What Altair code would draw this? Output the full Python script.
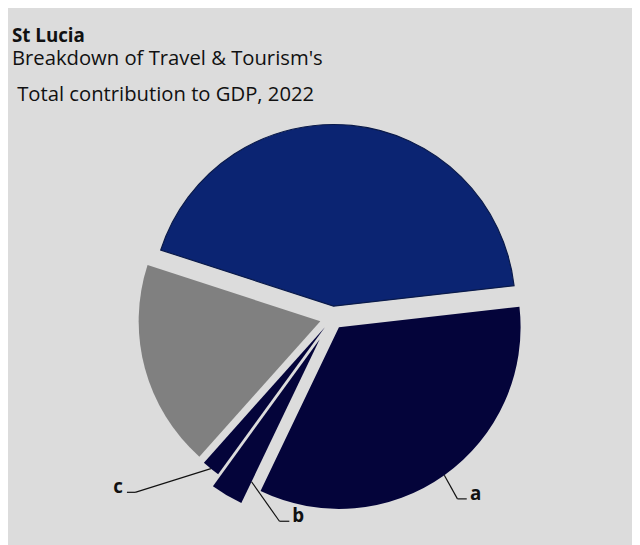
import math
import altair as alt
import pandas as pd

# ---------------- data ----------------
segments = ["Indirect", "a", "b", "c", "Induced"]
shares = [43.2, 33.9, 2.9, 1.6, 18.4]
callouts = ["", "a", "b", "c", ""]

title_text = "St Lucia"
subtitle_lines = ["Breakdown of Travel & Tourism's", "\u200b\u00a0Total contribution to GDP, 2022"]

# ---------------- style ----------------
FILL = {"Indirect": "#0b2472", "a": "#04043a", "b": "#04043a", "c": "#04043a", "Induced": "#808080"}
EXPLODE = {"Indirect": 12, "a": 11.5, "b": 25, "c": 12, "Induced": 12.6}
BG = "#dcdcdc"
FONT = "Open Sans"
W, H, PAD_TOP = 632, 537, 110
PLOT_H = H - PAD_TOP
R = 184
A0 = math.radians(288)           # start angle of the first slice (clockwise from 12 o'clock)
CX, CY = 328.5, 310.5 - PAD_TOP  # pie centre in plot coordinates
# callout layout: anchor (fraction along slice, fraction of radius), elbow offset, tail length
CALLOUT = {
    "a": dict(f=0.5, r=1.0, dx=13.3, dy=24.0, tail=9.4),
    "b": dict(f=0.0, r=0.87, dx=28.3, dy=40.0, tail=10.0),
    "c": dict(f=0.5, r=1.0, dx=-76.7, dy=24.0, tail=-8.3),
}

# ---------------- geometry derived from data ----------------
total = sum(shares)
rows = []
cum = 0.0
for i, (s, v, lab) in enumerate(zip(segments, shares, callouts)):
    start, end = cum, cum + v
    cum = end
    mid = A0 + 2 * math.pi * (start + v / 2) / total
    e = EXPLODE[s]
    rows.append(dict(name=s, value=v, label=lab, order=i, start=start, end=end,
                     cx=CX + e * math.sin(mid), cy=CY - e * math.cos(mid)))
df = pd.DataFrame(rows)

seg_rows, txt_rows = [], []
for r_ in rows:
    lab = r_["label"]
    if not lab:
        continue
    c = CALLOUT[lab]
    ang = A0 + 2 * math.pi * (r_["start"] + c["f"] * r_["value"]) / total
    ax = r_["cx"] + c["r"] * R * math.sin(ang)
    ay = r_["cy"] - c["r"] * R * math.cos(ang)
    ex, ey = ax + c["dx"], ay + c["dy"]
    tx = ex + c["tail"]
    seg_rows.append(dict(x=ax, y=ay, x2=ex, y2=ey))
    seg_rows.append(dict(x=ex, y=ey, x2=tx, y2=ey))
    sign = 1 if c["tail"] > 0 else -1
    txt_rows.append(dict(x=tx + sign * 9, y=ey + 1, label=lab))
seg_df = pd.DataFrame(seg_rows)
txt_df = pd.DataFrame(txt_rows)

theta_scale = alt.Scale(domain=[0, total], range=[A0, A0 + 2 * math.pi])

pie = alt.Chart(df).mark_arc(radius=R).encode(
    theta=alt.Theta("start:Q", scale=theta_scale),
    theta2="end:Q",
    x=alt.X("cx:Q", scale=None),
    y=alt.Y("cy:Q", scale=None),
    color=alt.Color("name:N", scale=alt.Scale(domain=segments, range=[FILL[s] for s in segments]), legend=None),
    stroke=alt.value("#0a1a4a"),
    strokeWidth=alt.condition("datum.name == 'Indirect'", alt.value(1.2), alt.value(0)),
)

leaders = alt.Chart(seg_df).mark_rule(color="#111111", strokeWidth=1.2).encode(
    x=alt.X("x:Q", scale=None), y=alt.Y("y:Q", scale=None),
    x2="x2:Q", y2="y2:Q",
)

labels = alt.Chart(txt_df).mark_text(font=FONT, fontSize=19, fontWeight="bold", color="#111111",
                                     align="center", baseline="alphabetic").encode(
    x=alt.X("x:Q", scale=None), y=alt.Y("y:Q", scale=None), text="label:N",
)

chart = alt.layer(pie, leaders, labels).properties(
    width=W, height=PLOT_H,
    padding={"left": 0, "top": PAD_TOP, "right": 0, "bottom": 0},
    autosize=alt.AutoSizeParams(type="none"),
    background=BG,
    title=alt.TitleParams(
        text=title_text, subtitle=subtitle_lines, anchor="start", frame="group",
        font=FONT, fontSize=19, fontWeight="bold", color="#111111",
        subtitleFont=FONT, subtitleFontSize=20.5, subtitleColor="#111111",
        subtitleLineHeight=36, subtitlePadding=4, offset=15, dx=4,
    ),
).configure_view(stroke=None)

chart.save("out.html", embed_options={"renderer": "svg", "actions": False})
